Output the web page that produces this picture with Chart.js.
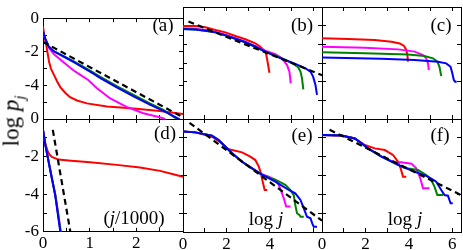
<!DOCTYPE html>
<html>
<head>
<meta charset="utf-8">
<script src="https://cdn.jsdelivr.net/npm/chart.js@4.4.1/dist/chart.umd.min.js"></script>
<style>
body { margin: 0; background: #fff; }
#fig { position: relative; width: 463px; height: 250px; overflow: hidden; font-family: "Liberation Serif", serif; color: #000; }
#fig canvas { position: absolute; left: 0; top: 0; }
.lbl { position: absolute; transform: translate(-50%, -50%); font-size: 19px; white-space: nowrap; line-height: 1; }
</style>
</head>
<body>
<div id="fig">
	<canvas id="pa" width="463" height="250"></canvas>
	<canvas id="pb" width="463" height="250"></canvas>
	<canvas id="pc" width="463" height="250"></canvas>
	<canvas id="pd" width="463" height="250"></canvas>
	<canvas id="pe" width="463" height="250"></canvas>
	<canvas id="pf" width="463" height="250"></canvas>
	<div class="lbl" style="left:163px;top:24px">(a)</div>
	<div class="lbl" style="left:302px;top:24px">(b)</div>
	<div class="lbl" style="left:441px;top:24px">(c)</div>
	<div class="lbl" style="left:165px;top:132px">(d)</div>
	<div class="lbl" style="left:302px;top:134px">(e)</div>
	<div class="lbl" style="left:440px;top:134px">(f)</div>
	<div class="lbl" style="left:134px;top:217px">(<i>j</i>/1000)</div>
	<div class="lbl" style="left:266px;top:218px">log <i>j</i></div>
	<div class="lbl" style="left:405px;top:218px">log <i>j</i></div>
	<div class="lbl" style="left:11px;top:121px;font-size:23px;transform:translate(-50%,-50%) rotate(-90deg)">log <i>p</i><sub style="font-size:15px;line-height:0"><i>j</i></sub></div>
</div>
<script>
// (a) and (d): x is j/1000, (b) (c) (e) (f): x is log j
const aDash = [[0, -1.41], [3, -5.9]];
const aBlue = [[0, -0.79], [0.05, -1.23], [0.12, -1.68], [0.23, -1.97], [0.44, -2.28], [0.65, -2.6], [0.87, -2.95], [1.08, -3.3], [1.22, -3.55], [1.58, -4.12], [1.94, -4.65], [2.29, -5.15], [2.58, -5.52], [2.86, -5.92], [2.93, -6.02]];
const aGreen = [[0, -0.79], [0.05, -1.23], [0.12, -1.68], [0.23, -1.96], [0.44, -2.26], [0.65, -2.56], [0.87, -2.9], [1.08, -3.24], [1.22, -3.48], [1.58, -4.04], [1.94, -4.56], [2.29, -5.07], [2.58, -5.46], [2.84, -5.95], [2.9, -6.02]];
const aMagenta = [[0, -0.8], [0.05, -1.25], [0.12, -1.75], [0.23, -2.13], [0.44, -2.62], [0.65, -3.1], [0.8, -3.37], [0.97, -3.68], [1.15, -4.15], [1.44, -4.78], [1.79, -5.28], [2.15, -5.66], [2.5, -5.9], [2.62, -6.0]];
const aRed = [[0, -0.5], [0.03, -1.05], [0.07, -1.6], [0.1, -2.1], [0.13, -2.6], [0.17, -3.0], [0.24, -3.4], [0.3, -3.75], [0.37, -4.1], [0.48, -4.45], [0.58, -4.7], [0.73, -4.9], [0.94, -5.07], [1.37, -5.25], [1.94, -5.37], [2.5, -5.52], [3.0, -5.7]];

const bDash = [[0.25, -0.78], [6.4, -3.65]];
const bBlue = [[0, -1.18], [0.57, -1.2], [1.03, -1.27], [1.49, -1.36], [1.95, -1.52], [2.41, -1.7], [2.87, -1.89], [3.33, -2.13], [3.79, -2.39], [4.25, -2.63], [4.71, -2.84], [5.17, -3.05], [5.64, -3.29], [5.87, -3.46], [5.99, -3.73], [6.1, -4.18], [6.17, -4.71]];
const bGreen = [[0, -1.18], [0.57, -1.2], [1.03, -1.27], [1.49, -1.36], [1.95, -1.52], [2.41, -1.7], [2.87, -1.89], [3.33, -2.13], [3.79, -2.39], [4.25, -2.6], [4.56, -2.76], [5.02, -3.0], [5.3, -3.23], [5.41, -3.46], [5.48, -3.82], [5.54, -4.41]];
const bMagenta = [[0, -1.14], [0.57, -1.16], [1.03, -1.23], [1.49, -1.32], [1.95, -1.48], [2.41, -1.67], [2.87, -1.86], [3.33, -2.1], [3.79, -2.34], [4.25, -2.52], [4.56, -2.75], [4.79, -3.11], [4.9, -3.46], [4.96, -4.09]];
const bRed = [[0, -1.02], [0.57, -1.02], [1.03, -1.09], [1.49, -1.23], [1.95, -1.36], [2.41, -1.55], [2.87, -1.73], [3.33, -1.95], [3.56, -2.13], [3.71, -2.3], [3.82, -2.48], [3.88, -2.84], [3.98, -3.52]];

const cBlue = [[0, -2.71], [2.74, -2.77], [4.27, -2.84], [5.34, -2.93], [5.72, -3.02], [5.92, -3.2], [6.0, -3.55], [6.07, -3.91], [6.13, -4.0], [6.2, -4.0]];
const cGreen = [[0, -2.43], [1.97, -2.48], [3.96, -2.54], [4.72, -2.63], [5.11, -2.75], [5.31, -2.93], [5.41, -3.2], [5.49, -3.7]];
const cMagenta = [[0, -2.13], [1.97, -2.18], [3.5, -2.27], [4.27, -2.39], [4.65, -2.57], [4.8, -2.75], [4.88, -3.02], [4.92, -3.38]];
const cRed = [[0, -1.68], [1.21, -1.71], [2.43, -1.77], [3.2, -1.86], [3.58, -1.95], [3.78, -2.09], [3.88, -2.3], [3.93, -2.57], [3.96, -2.93]];

const dDash = [[0.21, -0.58], [0.6, -6.2]];
const dBlue = [[0, -0.58], [0.05, -1.38], [0.12, -2.27], [0.19, -3.15], [0.26, -4.04], [0.31, -4.92], [0.36, -5.8], [0.38, -6.1]];
const dGreen = [[0, -0.58], [0.05, -1.38], [0.12, -2.27], [0.19, -3.15], [0.263, -4.04], [0.315, -4.92], [0.366, -5.8], [0.386, -6.1]];
const dMagenta = [[0, -0.58], [0.05, -1.38], [0.12, -2.27], [0.19, -3.15], [0.265, -4.04], [0.32, -4.92], [0.37, -5.8], [0.39, -6.1]];
const dRed = [[0, -0.6], [0.05, -1.3], [0.1, -1.72], [0.14, -1.9], [0.19, -2.02], [0.33, -2.16], [0.6, -2.22], [1.01, -2.3], [1.58, -2.44], [2.08, -2.58], [2.51, -2.76], [2.79, -2.94], [3.0, -3.08]];

const eDash = [[0.3, -0.2], [6.4, -5.4]];
const eBlue = [[0, -0.67], [0.57, -0.71], [1.33, -0.88], [1.64, -1.12], [1.95, -1.47], [2.26, -1.82], [2.72, -2.27], [3.18, -2.62], [3.65, -2.97], [4.25, -3.33], [4.87, -3.77], [5.17, -3.95], [5.41, -4.3], [5.56, -4.74], [5.71, -5.19], [5.87, -5.27], [5.95, -5.54], [6.02, -5.72], [6.17, -5.72]];
const eGreen = [[0, -0.67], [0.57, -0.71], [1.33, -0.88], [1.64, -1.12], [1.95, -1.47], [2.26, -1.82], [2.72, -2.27], [3.18, -2.62], [3.65, -2.97], [3.95, -3.1], [4.25, -3.22], [4.71, -3.5], [4.94, -3.77], [5.1, -4.04], [5.17, -4.57], [5.25, -5.0], [5.36, -5.1], [5.42, -5.19], [5.56, -5.19]];
const eMagenta = [[0, -0.67], [0.57, -0.71], [1.33, -0.88], [1.64, -1.12], [1.95, -1.47], [2.26, -1.82], [2.72, -2.27], [3.18, -2.62], [3.56, -2.9], [3.95, -3.06], [4.25, -3.24], [4.41, -3.5], [4.53, -3.86], [4.64, -4.21], [4.75, -4.65], [4.95, -4.65]];
const eRed = [[0, -0.67], [0.57, -0.71], [1.33, -0.94], [1.8, -1.29], [2.03, -1.56], [2.26, -1.65], [2.72, -1.77], [3.1, -2.0], [3.33, -2.18], [3.49, -2.53], [3.59, -2.88], [3.67, -3.33], [3.76, -3.77], [3.88, -3.77]];

const fDash = [[0.35, -0.57], [6.4, -4.04]];
const fBlue = [[0, -0.85], [0.9, -0.88], [1.51, -1.03], [1.82, -1.29], [2.12, -1.56], [2.74, -2.0], [3.5, -2.44], [4.27, -2.8], [4.88, -3.06], [5.26, -3.33], [5.49, -3.77], [5.64, -4.04], [5.8, -4.07], [5.92, -4.48], [6.02, -4.48]];
const fGreen = [[0, -0.85], [0.9, -0.88], [1.51, -1.03], [1.82, -1.29], [2.12, -1.56], [2.74, -2.0], [3.5, -2.44], [3.81, -2.6], [4.42, -2.71], [4.8, -2.97], [5.03, -3.24], [5.18, -3.59], [5.31, -4.04], [5.57, -4.04]];
const fMagenta = [[0, -0.85], [0.9, -0.88], [1.51, -1.03], [1.82, -1.29], [2.12, -1.56], [2.74, -2.0], [3.35, -2.3], [3.65, -2.3], [4.12, -2.37], [4.34, -2.62], [4.5, -3.06], [4.57, -3.33], [4.65, -3.68], [4.95, -3.68]];
const fRed = [[0, -0.85], [0.9, -0.88], [1.51, -1.03], [1.97, -1.38], [2.43, -1.56], [2.89, -1.65], [3.27, -1.91], [3.5, -2.27], [3.62, -2.62], [3.73, -3.06], [3.88, -3.06]];

// tick labels shown on each panel (others get tick marks only)
const xLabelsD = [0, 1, 2];
const xLabelsE = [0, 2, 4];
const xLabelsF = [0, 2, 4, 6];
const yLabelsA = [0, -2, -4];
const yLabelsD = [0, -2, -4, -6];

const tickFont = { family: "'Liberation Serif', serif", size: 17 };

// size = room given to the axis box (labels are clipped to it)
function makeAxis(pos, min, max, step, labels, pad, size) {
	const horiz = pos === 'top' || pos === 'bottom';
	return {
		type: 'linear',
		position: pos,
		min: min,
		max: max,
		grid: { display: true, drawOnChartArea: false, tickLength: -4, color: '#000', lineWidth: 1 },
		border: { display: true, color: '#000', width: 1 },
		ticks: {
			stepSize: step,
			includeBounds: false,
			autoSkip: false,
			maxRotation: 0,
			display: labels.length > 0,
			padding: pad,
			color: '#000',
			font: tickFont,
			callback: function (v) { return labels.indexOf(v) >= 0 ? String(v) : ''; }
		},
		afterFit: function (s) { if (horiz) s.height = size; else s.width = size; }
	};
}

function lineSet(pts, color, dashed) {
	return {
		data: pts.map(p => ({ x: p[0], y: p[1] })),
		borderColor: color,
		borderWidth: dashed ? 2.2 : 2,
		borderDash: dashed ? [6, 4] : [],
		pointRadius: 0,
		showLine: true,
		tension: 0,
		fill: false
	};
}

function panel(id, box, xmax, xstep, xlab, ylab, dash, blue, green, magenta, red) {
	const sets = [];
	if (dash) sets.push(lineSet(dash, '#000000', true));
	sets.push(lineSet(blue, '#0000ff'));
	sets.push(lineSet(green, '#008000'));
	sets.push(lineSet(magenta, '#ff00ff'));
	sets.push(lineSet(red, '#ff0000'));
	const ySize = ylab.length ? box[0] : 0;
	const xSize = xlab.length ? 250 - box[3] : 0;
	return new Chart(document.getElementById(id).getContext('2d'), {
		type: 'scatter',
		data: { datasets: sets },
		options: {
			responsive: false,
			animation: false,
			devicePixelRatio: 1,
			layout: { padding: { left: box[0] - ySize, top: box[1], right: 463 - box[2], bottom: 250 - box[3] - xSize } },
			plugins: { legend: { display: false }, tooltip: { enabled: false } },
			scales: {
				x: makeAxis('bottom', 0, xmax, xstep, xlab, 6, xSize),
				x2: makeAxis('top', 0, xmax, xstep, [], 0, 0),
				y: makeAxis('left', -6, 0, 1, ylab, 8, ySize),
				y2: makeAxis('right', -6, 0, 1, [], 0, 0)
			}
		}
	});
}

panel('pa', [43, 7, 183, 119], 3, 0.5, [], yLabelsA, aDash, aBlue, aGreen, aMagenta, aRed);
panel('pb', [183, 7, 322, 119], 6.4, 1, [], [], bDash, bBlue, bGreen, bMagenta, bRed);
panel('pc', [322, 7, 461, 119], 6.4, 1, [], [], null, cBlue, cGreen, cMagenta, cRed);
panel('pd', [43, 119, 183, 232], 3, 0.5, xLabelsD, yLabelsD, dDash, dBlue, dGreen, dMagenta, dRed);
panel('pe', [183, 119, 322, 232], 6.4, 1, xLabelsE, [], eDash, eBlue, eGreen, eMagenta, eRed);
panel('pf', [322, 119, 461, 232], 6.4, 1, xLabelsF, [], fDash, fBlue, fGreen, fMagenta, fRed);
</script>
</body>
</html>
